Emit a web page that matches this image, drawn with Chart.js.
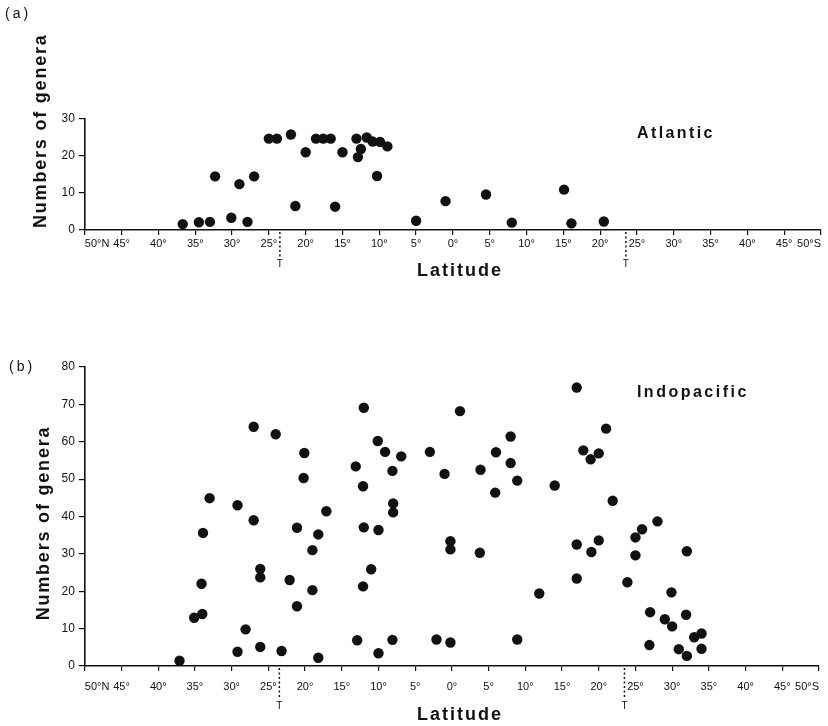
<!DOCTYPE html>
<html>
<head>
<meta charset="utf-8">
<script src="https://cdn.jsdelivr.net/npm/chart.js@4"></script>
<style>
  body { margin: 0; background: #fff; width: 828px; height: 726px; overflow: hidden; position: relative; }
  canvas { position: absolute; left: 0; }
  #atlantic { top: 0; }
  #indopacific { top: 290px; }
</style>
</head>
<body>
<canvas id="atlantic" width="828" height="290"></canvas>
<canvas id="indopacific" width="828" height="436"></canvas>
<script>
// latitude in degrees, north is negative so the axis runs 50°N -> 50°S
const latTicks = [-50, -45, -40, -35, -30, -25, -20, -15, -10, -5, 0, 5, 10, 15, 20, 25, 30, 35, 40, 45, 50]
const latLabels = ['50°N', '45°', '40°', '35°', '30°', '25°', '20°', '15°', '10°', '5°', '0°',
                   '5°', '10°', '15°', '20°', '25°', '30°', '35°', '40°', '45°', '50°S']
const tropics = [-23.5, 23.5]

// (a) Atlantic
const atlanticLat = [-36.7, -34.5, -33.0, -32.3, -30.1, -29.0, -27.9, -27.0, -25.0, -23.9,
                     -22.0, -21.4, -20.0, -18.6, -17.6, -16.6, -16.0, -15.0, -13.1, -12.9,
                     -12.5, -11.7, -10.9, -10.3, -9.9, -8.9, -5.0, -1.0, 4.5, 8.0,
                     15.1, 16.1, 20.5]
const atlanticGenera = [1.6, 2.1, 2.2, 14.5, 3.3, 12.4, 2.2, 14.5, 24.7, 24.7,
                        25.8, 6.5, 21.0, 24.7, 24.7, 24.7, 6.3, 21.0, 24.7, 19.7,
                        21.9, 25.0, 23.9, 14.6, 23.8, 22.6, 2.5, 7.8, 9.6, 2.0,
                        10.9, 1.8, 2.3]

// (b) Indopacific
const indopacificLat = [-37.1, -35.1, -34.0, -34.1, -33.9, -33.0, -29.2, -29.2, -28.1, -27.0,
                        -27.0, -26.1, -26.1, -26.1, -24.0, -23.2, -22.1, -21.1, -21.1, -20.1,
                        -20.2, -19.0, -19.0, -18.2, -18.2, -17.1, -13.1, -12.9, -12.0, -12.1,
                        -12.0, -12.1, -11.0, -10.1, -10.0, -10.0, -9.1, -8.1, -8.0, -8.0,
                        -8.1, -6.9, -3.0, -2.1, -1.0, -0.2, -0.2, -0.2, 1.1, 3.9,
                        3.8, 6.0, 5.9, 8.0, 8.0, 8.9, 8.9, 11.9, 14.0, 17.0,
                        17.0, 17.0, 17.9, 18.9, 20.0, 20.0, 19.0, 21.0, 21.9, 23.9,
                        25.0, 25.0, 25.9, 28.0, 27.0, 26.9, 29.0, 30.0, 29.9, 32.0,
                        31.9, 30.9, 32.0, 33.0, 34.0, 34.0]
const indopacificGenera = [1.4, 12.9, 13.9, 22.0, 35.6, 44.9, 43.0, 3.8, 9.8, 64.0,
                           39.0, 26.0, 23.7, 5.1, 62.0, 4.0, 23.0, 37.0, 16.0, 57.0,
                           50.3, 31.0, 20.3, 35.2, 2.2, 41.4, 53.4, 6.9, 69.1, 48.1,
                           37.1, 21.3, 25.9, 60.2, 36.4, 3.4, 57.3, 52.2, 43.5, 41.1,
                           7.0, 56.1, 57.3, 7.1, 51.4, 33.4, 31.2, 6.3, 68.2, 52.5,
                           30.3, 57.2, 46.4, 61.4, 54.3, 49.6, 7.1, 19.4, 48.3, 74.5,
                           32.5, 23.4, 57.7, 55.3, 56.9, 33.6, 30.5, 63.5, 44.2, 22.4,
                           34.4, 29.6, 36.6, 38.7, 14.4, 5.6, 12.5, 10.6, 19.7, 30.7,
                           13.7, 4.5, 2.7, 7.7, 8.7, 4.6]

const ink = '#111'
const sans = '"Liberation Sans", Arial, sans-serif'

// titles, panel letter, region name and the tropic markers
const decor = {
  id: 'decor',
  afterDraw(chart, args, o) {
    const ctx = chart.ctx
    const x = chart.scales.x, y = chart.scales.y, area = chart.chartArea
    ctx.save()
    ctx.fillStyle = ink
    ctx.strokeStyle = ink

    ctx.font = '14px ' + sans
    ctx.letterSpacing = '3px'
    ctx.textAlign = 'left'
    ctx.textBaseline = 'middle'
    ctx.fillText(o.letter, o.letterX, o.letterY)

    ctx.font = 'bold 16px ' + sans
    ctx.letterSpacing = o.regionSpacing
    ctx.textBaseline = 'alphabetic'
    ctx.fillText(o.region, x.getPixelForValue(o.regionAt[0]), y.getPixelForValue(o.regionAt[1]))

    ctx.font = 'bold 18px ' + sans
    ctx.letterSpacing = '2px'
    ctx.textAlign = 'center'
    ctx.textBaseline = 'middle'
    ctx.fillText('Latitude', 460, o.xTitleY)

    ctx.font = '10px ' + sans
    ctx.letterSpacing = '0px'
    ctx.lineWidth = 1.5
    ctx.setLineDash([2, 2.5])
    tropics.forEach(t => {
      const px = x.getPixelForValue(t)
      ctx.beginPath()
      ctx.moveTo(px, area.bottom + 2)
      ctx.lineTo(px, area.bottom + o.tLen)
      ctx.stroke()
      ctx.fillText('T', px, area.bottom + o.tLen + 7)
    })

    ctx.translate(o.yTitleX, o.yTitleY)
    ctx.rotate(-Math.PI / 2)
    ctx.font = 'bold 18px ' + sans
    ctx.letterSpacing = '1.8px'
    ctx.textAlign = o.yTitleAlign
    ctx.textBaseline = 'alphabetic'
    ctx.fillText('Numbers of genera', 0, 0)
    ctx.restore()
  }
}

function makeChart(id, lat, genera, yMax, cfg) {
  return new Chart(document.getElementById(id), {
    type: 'scatter',
    data: {
      datasets: [{
        data: lat.map((v, i) => ({ x: v, y: genera[i] })),
        backgroundColor: ink,
        borderWidth: 0,
        pointRadius: 5.2,
        pointHoverRadius: 5.2
      }]
    },
    options: {
      responsive: false,
      animation: false,
      devicePixelRatio: 1,
      layout: { padding: { left: 0, right: 7, top: cfg.top, bottom: 20 } },
      plugins: { legend: { display: false }, tooltip: { enabled: false }, decor: cfg.decor },
      scales: {
        x: {
          type: 'linear', min: -50, max: 50,
          afterFit: s => { s.height = 40 },
          ticks: {
            stepSize: 5, autoSkip: false, maxRotation: 0, align: 'inner',
            padding: cfg.tickPad, color: ink, font: { family: sans, size: 11 },
            callback: v => latLabels[latTicks.indexOf(v)]
          },
          grid: { drawOnChartArea: false, tickLength: 5, color: ink, lineWidth: 1.2 },
          border: { color: ink, width: 1.6 }
        },
        y: {
          min: 0, max: yMax,
          afterFit: s => { s.width = 84.8 },
          ticks: { stepSize: 10, padding: 4, color: ink, font: { family: sans, size: 12 } },
          grid: { drawOnChartArea: false, tickLength: 6, color: ink, lineWidth: 1.2 },
          border: { color: ink, width: 1.6 }
        }
      }
    },
    plugins: [decor]
  })
}

makeChart('atlantic', atlanticLat, atlanticGenera, 30, {
  top: 119, tickPad: 2,
  decor: {
    letter: '(a)', letterX: 5, letterY: 14,
    region: 'Atlantic', regionAt: [25.0, 24.8], regionSpacing: '2.4px',
    xTitleY: 271, tLen: 27,
    yTitleX: 46, yTitleY: 228, yTitleAlign: 'left'
  }
})

makeChart('indopacific', indopacificLat, indopacificGenera, 80, {
  top: 77, tickPad: 9,
  decor: {
    letter: '(b)', letterX: 9, letterY: 77,
    region: 'Indopacific', regionAt: [25.2, 72.0], regionSpacing: '2.5px',
    xTitleY: 425, tLen: 33,
    yTitleX: 49, yTitleY: 233, yTitleAlign: 'center'
  }
})
</script>
</body>
</html>
